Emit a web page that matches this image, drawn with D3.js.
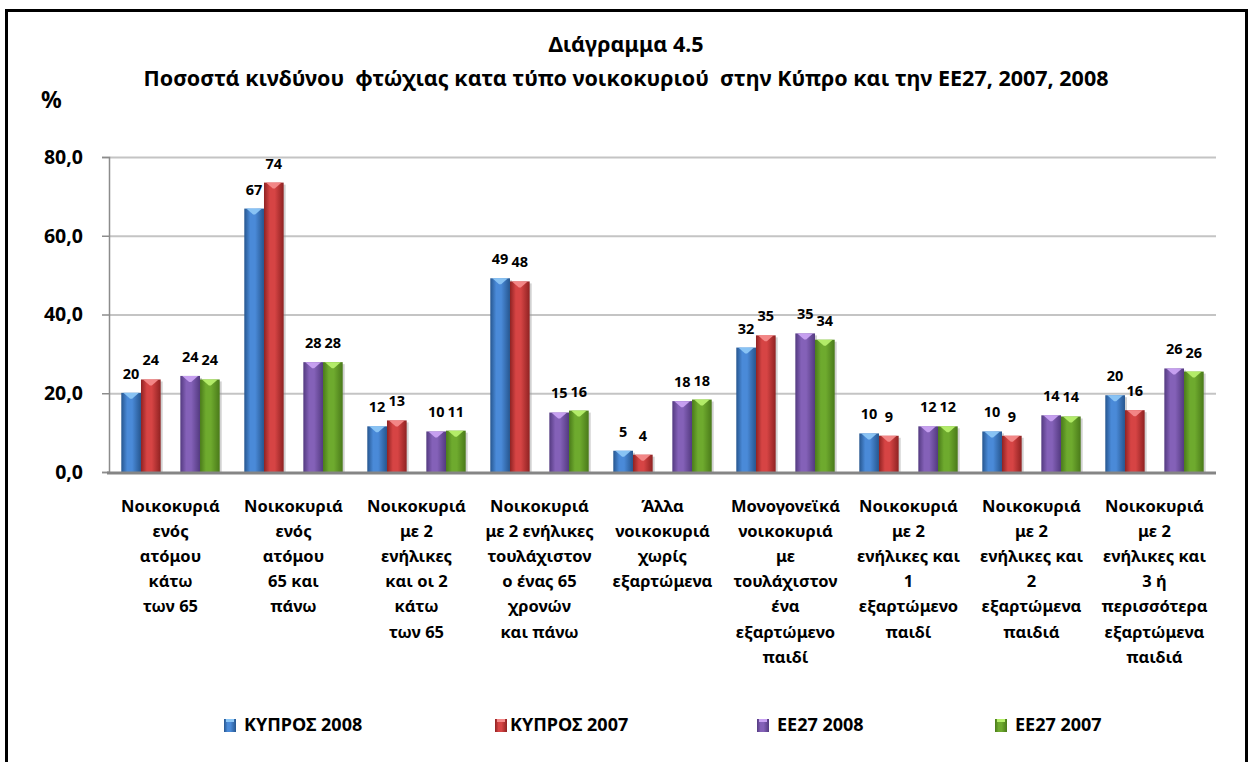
<!DOCTYPE html>
<html>
<head>
<meta charset="UTF-8">
<title>Διάγραμμα 4.5</title>
<style>
    body { margin: 0; background: #fff; }
    svg text { font-family: "Noto Sans", "Open Sans", sans-serif; font-weight: bold; fill: #000; }
    .axis-y path { stroke: #8c8c8c; stroke-width: 1.5; }
    .axis-y line { stroke: #8c8c8c; stroke-width: 1.5; }
    .grid line { stroke: #c4c4c4; stroke-width: 2; }
    .grid path { display: none; }
</style>
</head>
<body>
<div id="chart"></div>
<script src="https://d3js.org/d3.v7.min.js"></script>
<script>
// category tick labels, one array of lines per category
const categories = [
    ["Νοικοκυριά", "ενός", "ατόμου", "κάτω", "των 65"],
    ["Νοικοκυριά", "ενός", "ατόμου", "65 και", "πάνω"],
    ["Νοικοκυριά", "με 2", "ενήλικες", "και οι 2", "κάτω", "των 65"],
    ["Νοικοκυριά", "με 2 ενήλικες", "τουλάχιστον", "ο ένας 65", "χρονών", "και πάνω"],
    ["Άλλα", "νοικοκυριά", "χωρίς", "εξαρτώμενα"],
    ["Μονογονεϊκά", "νοικοκυριά", "με", "τουλάχιστον", "ένα", "εξαρτώμενο", "παιδί"],
    ["Νοικοκυριά", "με 2", "ενήλικες και", "1", "εξαρτώμενο", "παιδί"],
    ["Νοικοκυριά", "με 2", "ενήλικες και", "2", "εξαρτώμενα", "παιδιά"],
    ["Νοικοκυριά", "με 2", "ενήλικες και", "3 ή", "περισσότερα", "εξαρτώμενα", "παιδιά"]
];

// series values (%)
const kyprosValues2008 = [20.1, 66.9, 11.6, 49.2, 5.4, 31.6, 9.8, 10.3, 19.5];
const kyprosValues2007 = [23.5, 73.5, 13.1, 48.4, 4.4, 34.7, 9.2, 9.2, 15.7];
const ee27Values2008 = [24.4, 27.9, 10.3, 15.1, 18.0, 35.2, 11.6, 14.4, 26.3];
const ee27Values2007 = [23.5, 27.9, 10.5, 15.6, 18.4, 33.6, 11.6, 14.1, 25.5];

const yTicks = [0, 20, 40, 60, 80];

const series = [
    { name: "ΚΥΠΡΟΣ 2008", group: "ΚΥΠΡΟΣ", year: "2008", values: kyprosValues2008, dark: "#26568f", mid: "#4a8ad8", light: "#8cc6f6" },
    { name: "ΚΥΠΡΟΣ 2007", group: "ΚΥΠΡΟΣ", year: "2007", values: kyprosValues2007, dark: "#8f2222", mid: "#d64444", light: "#f48a8a" },
    { name: "ΕΕ27 2008", group: "ΕΕ27", year: "2008", values: ee27Values2008, dark: "#533a80", mid: "#8461b8", light: "#c9a2f2" },
    { name: "ΕΕ27 2007", group: "ΕΕ27", year: "2007", values: ee27Values2007, dark: "#4a7a1a", mid: "#6eaa2e", light: "#b6ef6c" }
];

const width = 1258, height = 762;
const margin = { top: 157, right: 42, bottom: 290, left: 109 };
const plotW = width - margin.left - margin.right;
const plotH = height - margin.top - margin.bottom;

const svg = d3.select("#chart").append("svg")
    .attr("width", width)
    .attr("height", height);

// gradients for the rounded bar look
const defs = svg.append("defs");
series.forEach((s, i) => {
    const g = defs.append("linearGradient").attr("id", "bar" + i)
        .attr("x1", "0%").attr("x2", "100%").attr("y1", "0%").attr("y2", "0%");
    g.append("stop").attr("offset", "0%").attr("stop-color", s.dark);
    g.append("stop").attr("offset", "30%").attr("stop-color", s.mid);
    g.append("stop").attr("offset", "55%").attr("stop-color", s.mid);
    g.append("stop").attr("offset", "100%").attr("stop-color", s.dark);
});

// frame
svg.append("rect")
    .attr("x", 6.5).attr("y", 10.5)
    .attr("width", 1240).attr("height", 800)
    .attr("fill", "none").attr("stroke", "#000").attr("stroke-width", 3);

// titles
svg.append("text").attr("x", 626).attr("y", 46)
    .attr("text-anchor", "middle").attr("dominant-baseline", "middle")
    .style("font-size", "21.5px")
    .text("Διάγραμμα 4.5");
svg.append("text").attr("x", 626).attr("y", 80)
    .attr("text-anchor", "middle").attr("dominant-baseline", "middle")
    .style("font-size", "21.5px")
    .style("white-space", "pre")
    .text("Ποσοστά κινδύνου  φτώχιας κατα τύπο νοικοκυριού  στην Κύπρο και την ΕΕ27, 2007, 2008");
svg.append("text").attr("x", 41).attr("y", 102)
    .attr("dominant-baseline", "middle")
    .style("font-size", "23px")
    .text("%");

const chart = svg.append("g")
    .attr("transform", `translate(${margin.left}, ${margin.top})`);

// scales
const x = d3.scaleBand()
    .domain(d3.range(categories.length))
    .range([0, plotW])
    .paddingInner(0.2)
    .paddingOuter(0.1);

const xGroup = d3.scaleBand()
    .domain(["ΚΥΠΡΟΣ", "ΕΕ27"])
    .range([0, x.bandwidth()])
    .paddingInner(1 / 3);

const xYear = d3.scaleBand()
    .domain(["2008", "2007"])
    .range([0, xGroup.bandwidth()]);

const y = d3.scaleLinear()
    .domain([0, 80])
    .range([plotH, 0]);

// gridlines
chart.append("g")
    .attr("class", "grid")
    .call(d3.axisLeft(y).tickValues(yTicks.slice(1)).tickSize(-plotW).tickFormat(""));

// y axis
const yAxis = chart.append("g")
    .attr("class", "axis-y")
    .call(d3.axisLeft(y).tickValues(yTicks).tickSize(7).tickPadding(19)
        .tickFormat(d => d3.format(".1f")(d).replace(".", ",")));
yAxis.selectAll("text").style("font-size", "19.5px");

// bars
const bars = [];
series.forEach((s, si) => {
    s.values.forEach((v, ci) => {
        bars.push({ s, si, ci, v, x: x(ci) + xGroup(s.group) + xYear(s.year) });
    });
});

const bw = xYear.bandwidth();

// soft shadow on the right side
chart.append("g").selectAll("rect")
    .data(bars)
    .join("rect")
    .attr("x", d => d.x + 2)
    .attr("y", d => y(d.v) + 2)
    .attr("width", bw)
    .attr("height", d => plotH - y(d.v) - 2)
    .attr("fill", "#9a9a9a")
    .attr("opacity", 0.45);

chart.append("g").selectAll("rect")
    .data(bars)
    .join("rect")
    .attr("x", d => d.x)
    .attr("y", d => y(d.v))
    .attr("width", bw)
    .attr("height", d => plotH - y(d.v))
    .attr("fill", d => `url(#bar${d.si})`);

// top caps with a light chevron
chart.append("g").selectAll("path")
    .data(bars)
    .join("path")
    .attr("d", d => {
        const x0 = d.x, y0 = y(d.v);
        return `M${x0 + 2},${y0} L${x0 + bw - 2},${y0} L${x0 + bw / 2 + 1},${y0 + 6} L${x0 + bw / 2 - 1},${y0 + 6} Z`;
    })
    .attr("fill", d => d.s.light)
    .attr("opacity", 0.95);

// baseline
chart.append("line")
    .attr("x1", -2).attr("x2", plotW)
    .attr("y1", plotH + 1).attr("y2", plotH + 1)
    .attr("stroke", "#858585").attr("stroke-width", 3);

// value labels
chart.append("g").selectAll("text")
    .data(bars)
    .join("text")
    .attr("x", d => d.x + bw / 2)
    .attr("y", d => y(d.v) - 18)
    .attr("text-anchor", "middle")
    .attr("dominant-baseline", "middle")
    .style("font-size", "14.5px")
    .text(d => Math.round(d.v));

// category labels
const catLabels = chart.append("g").selectAll("text")
    .data(categories)
    .join("text")
    .attr("text-anchor", "middle")
    .style("font-size", "16.5px")
    .attr("transform", (d, i) => `translate(${x(i) + x.bandwidth() / 2}, ${plotH + 35})`);
catLabels.selectAll("tspan")
    .data(d => d)
    .join("tspan")
    .attr("x", 0)
    .attr("y", (d, i) => i * 25.2)
    .attr("dominant-baseline", "middle")
    .text(d => d);

// legend
const legendX = [224, 495, 757, 995];
const legend = svg.append("g").selectAll("g")
    .data(series)
    .join("g")
    .attr("transform", (d, i) => `translate(${legendX[i]}, 726)`);
legend.append("rect")
    .attr("x", 0).attr("y", -7)
    .attr("width", 12).attr("height", 13)
    .attr("fill", (d, i) => `url(#bar${i})`);
legend.append("rect")
    .attr("x", 2).attr("y", -7)
    .attr("width", 8).attr("height", 3)
    .attr("fill", d => d.light);
legend.append("text")
    .attr("x", (d, i) => i === 1 ? 15 : 20)
    .attr("dominant-baseline", "middle")
    .style("font-size", "18px")
    .text(d => d.name);
</script>
</body>
</html>
